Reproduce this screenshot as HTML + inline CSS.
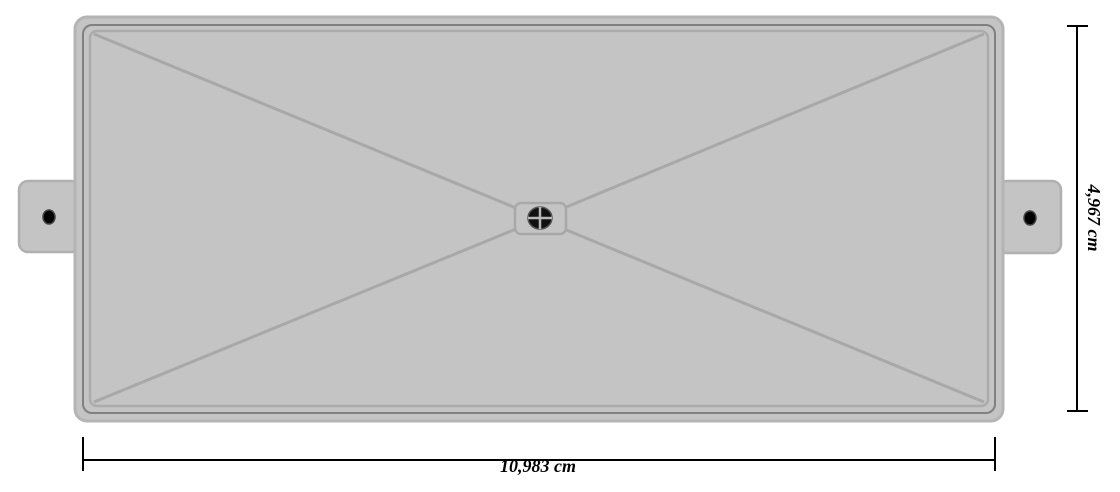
<!DOCTYPE html>
<html><head><meta charset="utf-8"><style>
html,body{margin:0;padding:0;background:#fff;width:1120px;height:492px;overflow:hidden}
text{font-family:"Liberation Serif",serif;font-weight:bold;font-style:italic;font-size:18px;fill:#000}
</style></head><body>
<svg width="1120" height="492" viewBox="0 0 1120 492">
<g>
<rect x="19" y="181" width="62" height="71" rx="9" fill="#c4c4c4" stroke="#b0b0b0" stroke-width="2.5"/>
<ellipse cx="49" cy="217" rx="6" ry="7" fill="#000" stroke="#444" stroke-width="1.5"/>
</g>
<g>
<rect x="998" y="181" width="63" height="72" rx="9" fill="#c4c4c4" stroke="#b0b0b0" stroke-width="2.5"/>
<ellipse cx="1030" cy="218" rx="6" ry="7" fill="#000" stroke="#444" stroke-width="1.5"/>
</g>
<rect x="75" y="17" width="928" height="404" rx="12" fill="#c4c4c4" stroke="#b4b4b4" stroke-width="3"/>
<rect x="83" y="25" width="912" height="388" rx="9" fill="#c4c4c4" stroke="#808080" stroke-width="2"/>
<rect x="90" y="31" width="898" height="375" rx="7" fill="#c4c4c4" stroke="#ababab" stroke-width="2.5"/>
<g stroke="#a8a8a8" stroke-width="3">
<line x1="94" y1="34" x2="516" y2="208"/><line x1="984" y1="34" x2="564" y2="208"/>
<line x1="94" y1="402" x2="516" y2="229"/><line x1="984" y1="402" x2="564" y2="229"/>
</g>
<rect x="515" y="203" width="51" height="31" rx="6" fill="#c4c4c4" stroke="#a8a8a8" stroke-width="2.5"/>
<g>
<ellipse cx="540" cy="218" rx="12" ry="11" fill="#111" stroke="#555" stroke-width="1.5"/>
<line x1="528" y1="218" x2="552" y2="218" stroke="#b8b8b8" stroke-width="2.5"/>
<line x1="540" y1="207" x2="540" y2="229" stroke="#b8b8b8" stroke-width="2.5"/>
</g>
<g stroke="#000" stroke-width="2">
<line x1="83" y1="460" x2="995" y2="460"/>
<line x1="83" y1="437" x2="83" y2="471"/><line x1="995" y1="437" x2="995" y2="471"/>
</g>
<text x="538" y="472" text-anchor="middle">10,983 cm</text>
<g stroke="#000" stroke-width="2">
<line x1="1077" y1="26" x2="1077" y2="411"/>
<line x1="1067" y1="26" x2="1088" y2="26"/><line x1="1067" y1="411" x2="1088" y2="411"/>
</g>
<text transform="translate(1088,218) rotate(90)" text-anchor="middle">4,967 cm</text>
</svg>
</body></html>
